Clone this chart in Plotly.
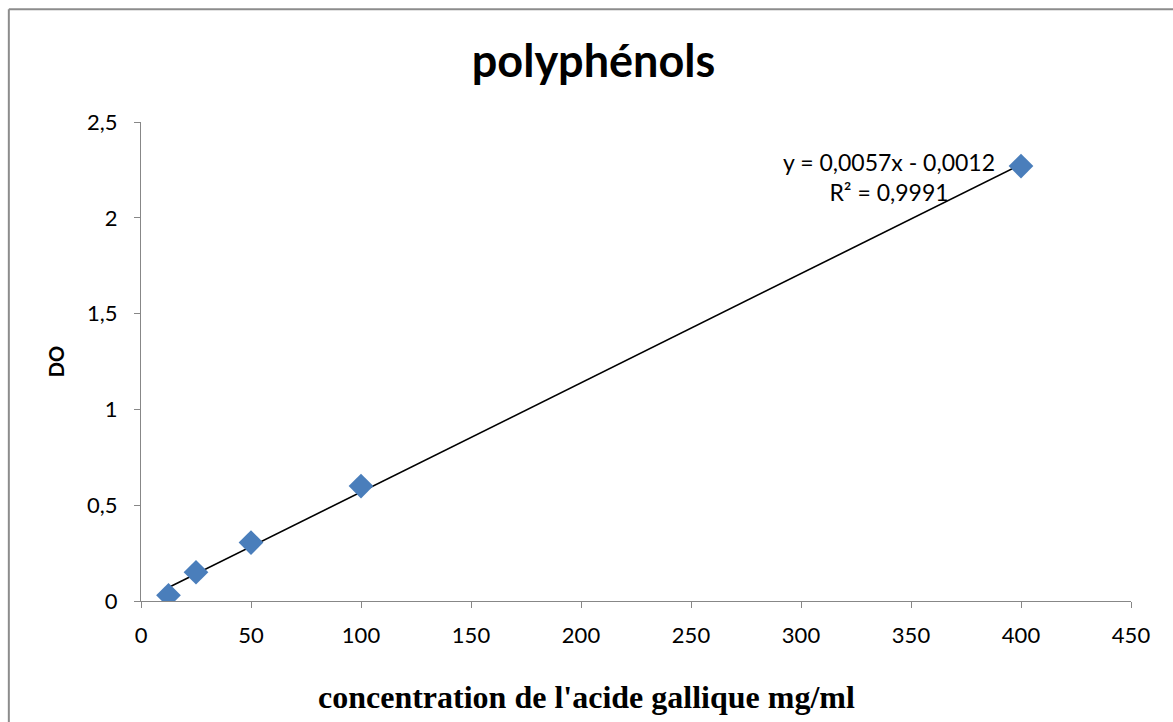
import numpy as np
import plotly.graph_objects as go

# Gallic acid calibration standards
concentration = [12.5, 25, 50, 100, 400]
absorbance = [0.03, 0.15, 0.305, 0.6, 2.27]

# Linear trendline coefficients
slope = 0.0057
intercept = -0.0012
r_squared = 0.9991

x_ticks = [0, 50, 100, 150, 200, 250, 300, 350, 400, 450]
y_ticks = [0, 0.5, 1, 1.5, 2, 2.5]

fit_x = [min(concentration), max(concentration)]
fit_y = [slope * v + intercept for v in fit_x]

font_main = "Lato, 'Open Sans', sans-serif"

fig = go.Figure()
fig.add_trace(go.Scatter(
    x=fit_x, y=fit_y, mode="lines",
    line=dict(color="black", width=1.6),
    hoverinfo="skip", showlegend=False,
))
fig.add_trace(go.Scatter(
    x=concentration, y=absorbance, mode="markers",
    marker=dict(symbol="diamond", size=19, color="#4a7ebb",
                line=dict(width=0)),
    showlegend=False,
))

eq_text = (f"y = {slope:.4f}x - {abs(intercept):.4f}".replace(".", ",")
           + "<br>" + f"R² = {r_squared:.4f}".replace(".", ","))
fig.add_annotation(
    x=340, y=2.215, xref="x", yref="y", text=eq_text, showarrow=False,
    font=dict(family=font_main, size=23, color="black"), align="center",
    xanchor="center", yanchor="middle",
)

# x-axis title, set slightly left of the plot centre
fig.add_annotation(
    x=0.4495, y=-0.2, xref="paper", yref="paper",
    text="<b>concentration de l'acide gallique mg/ml</b>", showarrow=False,
    font=dict(family="'Liberation Serif', serif", size=32, color="black"),
    xanchor="center", yanchor="middle",
)

axis_common = dict(
    showgrid=False, zeroline=False, showline=True,
    linecolor="#878787", linewidth=1.3,
    ticks="outside", ticklen=6, tickcolor="#878787", tickwidth=1.3,
    tickfont=dict(family=font_main, size=22, color="black"),
)

fig.update_layout(
    width=1173, height=722,
    paper_bgcolor="white", plot_bgcolor="white",
    margin=dict(l=141, r=42, t=122, b=121),
    separators=", ",
    title=dict(text="<b>polyphénols</b>", x=0.506, xanchor="center",
               y=0.915, yanchor="middle",
               font=dict(family=font_main, size=45, color="black")),
    xaxis=dict(range=[0, 450], tickvals=x_ticks, ticklabelstandoff=8,
               **axis_common),
    yaxis=dict(range=[0, 2.5], tickvals=y_ticks, ticklabelstandoff=12,
               **axis_common,
               title=dict(text="<b>DO</b>", standoff=16,
                          font=dict(family=font_main, size=20, color="black"))),
    shapes=[
        dict(type="line", xref="paper", yref="paper",
             x0=-0.1335, x1=1.05, y0=1.2355, y1=1.2355,
             line=dict(color="#8c8c8c", width=2)),
        dict(type="line", xref="paper", yref="paper",
             x0=-0.1335, x1=-0.1335, y0=1.2355, y1=-0.3,
             line=dict(color="#8c8c8c", width=2)),
    ],
)

fig.write_html("out.html")
